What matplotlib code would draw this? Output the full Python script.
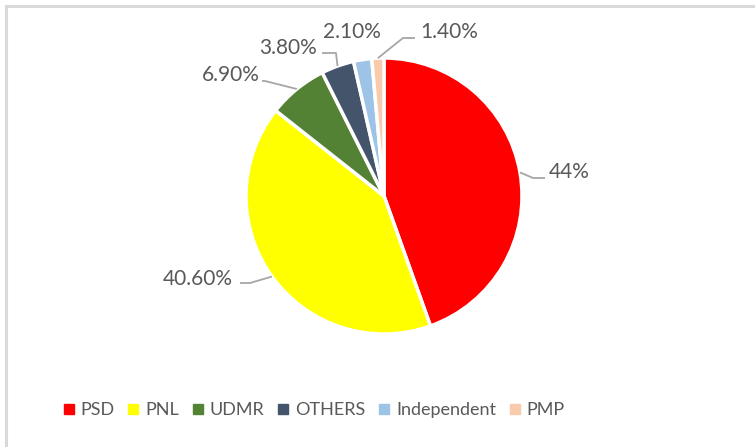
import numpy as np
import matplotlib.pyplot as plt
from matplotlib.patches import Rectangle

parties = ["PSD", "PNL", "UDMR", "OTHERS", "Independent", "PMP"]
shares = [44, 40.6, 6.9, 3.8, 2.1, 1.4]
share_labels = ["44%", "40.60%", "6.90%", "3.80%", "2.10%", "1.40%"]
colors = ["#ff0000", "#ffff00", "#548235", "#44546a", "#9dc3e6", "#f8cbad"]

W, H = 755, 447
plt.rcParams["font.family"] = ["Lato", "DejaVu Sans"]
fig = plt.figure(figsize=(W / 100, H / 100), dpi=100)
ax = fig.add_axes([0, 0, 1, 1])

# light grey chart border (runs off the right/bottom edge)
ax.add_patch(Rectangle((5.5, -10), W + 20, H - 5.5 + 10, fill=False,
                       edgecolor="#d9d9d9", linewidth=2.2))

cx, cy, r = 384, H - 196, 138
wedges, _ = ax.pie(shares, colors=colors, startangle=90, counterclock=False,
                   center=(cx, cy), radius=r, frame=True,
                   wedgeprops=dict(edgecolor="white", linewidth=2.5))
ax.set_xlim(0, W)
ax.set_ylim(0, H)
ax.axis("off")

# label placement (pixel positions of text centre, leader elbow)
label_pos = [(569, 172), (198, 279), (231, 75), (288, 48), (352, 32), (449, 32)]
elbow = [(533, 178), (250, 283), (265, 81), (336, 53), None, (403, 38)]
line_end = [(545, 178), (240, 283), (262, 81), (322, 53), None, (415, 38)]

for w, lab, pos, el, le in zip(wedges, share_labels, label_pos, elbow, line_end):
    mid = np.deg2rad((w.theta1 + w.theta2) / 2)
    px, py = cx + r * np.cos(mid), cy + r * np.sin(mid)
    if el is not None:
        ax.plot([px, el[0], le[0]], [py, H - el[1], H - le[1]],
                color="#a6a6a6", linewidth=1.3, solid_capstyle="butt")
    ax.text(pos[0], H - pos[1], lab, ha="center", va="center",
            fontsize=15, color="#595959")

handles = [plt.Line2D([], [], marker="s", linestyle="none", markersize=7,
                      markerfacecolor=c, markeredgecolor=c) for c in colors]
fig.legend(handles, parties, loc="center", bbox_to_anchor=(314 / W, 1 - 410 / H),
           ncol=6, frameon=False, fontsize=13, labelcolor="#595959",
           handlelength=0.6, handletextpad=0.35, columnspacing=0.75,
           borderpad=0, borderaxespad=0)

fig.savefig("out.png", dpi=100)
